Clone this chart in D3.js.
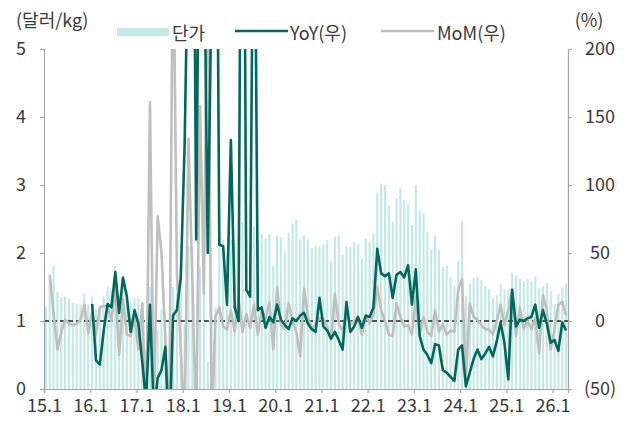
<!DOCTYPE html>
<html>
<head>
<meta charset="utf-8">
<script src="https://cdn.jsdelivr.net/npm/d3@7"></script>
<style>
  html, body { margin: 0; padding: 0; background: #fff; }
  svg text { font-family: "Noto Sans CJK KR", "Noto Sans", sans-serif; fill: #3a3a3a; }
</style>
</head>
<body>
<svg id="chart" width="629" height="425"></svg>
<script>
// Monthly categories 2015.1 – 2026.4
const years = d3.range(2015, 2027);
const months = [];
years.forEach(y => d3.range(1, 13).forEach(m => { if (y < 2026 || m <= 4) months.push(`${String(y).slice(2)}.${m}`); }));

// Unit price (USD/kg)
const price = [
  1.21, 1.65, 1.81, 1.43, 1.35, 1.36, 1.33, 1.27, 1.25, 1.24, 1.40, 1.24,
  1.36, 1.17, 1.23, 1.36, 1.51, 1.45, 1.81, 1.38, 1.60, 1.45, 1.29, 1.34,
  1.33, 1.27, 0.57, 1.50, 0.49, 0.87, 1.16, 1.10, 0.20, 1.50, 1.40, 1.77,
  0.94, 2.10, 2.10, 0.35, 1.80, 1.80, 0.40, 1.60, 1.20, 2.30, 2.20, 2.00,
  2.20, 2.15, 2.30, 2.46, 2.20, 2.10, 2.40, 2.20, 2.28, 2.21, 2.28, 1.81,
  2.26, 2.23, 2.03, 2.30, 2.43, 2.49, 2.20, 2.26, 2.20, 2.07, 2.10, 2.10,
  2.13, 2.19, 1.88, 2.24, 2.26, 1.97, 2.10, 2.09, 2.16, 2.14, 1.91, 2.21,
  2.16, 2.29, 2.89, 3.02, 3.00, 2.70, 2.46, 2.80, 2.95, 2.78, 2.71, 2.41,
  3.00, 2.63, 2.58, 2.31, 2.05, 2.25, 2.04, 1.80, 1.81, 1.65, 1.53, 1.88,
  2.47, 1.37, 1.55, 1.63, 1.65, 1.60, 1.51, 1.47, 1.34, 1.38, 1.54, 1.46,
  1.46, 1.70, 1.67, 1.62, 1.59, 1.62, 1.58, 1.65, 1.48, 1.51, 1.56, 1.43,
  1.25, 1.40, 1.49, 1.55
];

// Year-on-year change (%), right axis
const yoy = [
  null, null, null, null, null, null, null, null, null, null, null, null,
  12.5, -29, -32, -7, 12.5, 10, 36, 6, 32, 18, -8, 8,
  -2, -30, -60, 12, -68, -42, -36, -19, -90, 4, 8, 32,
  130, 300, 500, 60, 400, 300, 50, 250, 500, 56, 55, 12,
  133, 10, 0, 600, 23, 18, 400, 8, 10, -5, 3, -1,
  12, 1, -3, -6, 2, 0, 4, 6, -2, -6, -8, 17,
  -4, -7, -13, -8, -14, -21, 14, -8, -4, 3, -5, 4,
  3, 10, 53, 35, 33, 35, 17, 34, 36, 32, 41, 12,
  38, -11, -21, -25, -31, -17, -18, -36, -38, -41, -44, -21,
  -18, -48, -38, -28, -21, -28, -24, -19, -26, -15, -1, -16,
  -43, 23, -4, 1, 0, 2, 3, 12, -5, 8, -2, -16,
  -14, -22, -1, -7
];

// Month-on-month change (%), right axis
const mom = [
  null, 34, 5, -21, -8, 1, -2, -3, -2, 1, 12, -9,
  7, -10, 10, 11, 11, 0, 25, -25, 16, -10, -11, 4,
  -21, 13, -80, 161, -70, 77, 50, -14, -80, 300, 35, -20,
  -80, 134, 30, -80, 158, 20, 300, -80, 3, 10, -4, -6,
  8, -8, 17, -8, 5, -5, 12, -10, 8, 2, 14, -21,
  25, -3, -6, 13, 0, -8, -26, 24, 3, -6, -2, 2,
  2, -4, -14, 20, -2, -7, 5, -2, 0, 3, -10, 4,
  -2, 5, 25, 8, 0, -10, -11, 13, 3, -4, -3, -10,
  18, -10, 3, -8, -11, 8, -8, -2, -10, -7, -8, 23,
  31, -43, 13, 3, 1, -3, -6, -6, -10, 0, 12, -3,
  8, 23, -11, 10, -6, 0, -6, 2, -24, 19, 8, -21,
  -6, 12, 14, 4
];

const leftTicks = [0, 1, 2, 3, 4, 5];
const rightTicks = [-50, 0, 50, 100, 150, 200];
const xTickLabels = ["15.1", "16.1", "17.1", "18.1", "19.1", "20.1", "21.1", "22.1", "23.1", "24.1", "25.1", "26.1"];

const colors = { bar: "#c2e9e3", yoy: "#00695c", mom: "#bfbfbf", axis: "#a6a6a6" };

const svg = d3.select("#chart");
const plot = { left: 44, right: 568, top: 49, bottom: 389 };

const x = d3.scaleBand().domain(d3.range(months.length)).range([plot.left, plot.right]).paddingInner(0.45).paddingOuter(0.2);
const xPos = d3.scaleLinear().domain([0, months.length]).range([plot.left, plot.right]);
const yL = d3.scaleLinear().domain([0, 5]).range([plot.bottom, plot.top]);
const yR = d3.scaleLinear().domain([-50, 200]).range([plot.bottom, plot.top]);

svg.append("defs").append("clipPath").attr("id", "plotClip")
  .append("rect").attr("x", plot.left).attr("y", plot.top)
  .attr("width", plot.right - plot.left).attr("height", plot.bottom - plot.top);

// Bars
svg.append("g").selectAll("rect").data(price).join("rect")
  .attr("x", (d, i) => x(i))
  .attr("width", x.bandwidth())
  .attr("y", d => yL(d))
  .attr("height", d => yL(0) - yL(d))
  .attr("fill", colors.bar);

// Reference line at 0%
svg.append("line")
  .attr("x1", plot.left).attr("x2", plot.right)
  .attr("y1", yR(0)).attr("y2", yR(0))
  .attr("stroke", "#222").attr("stroke-width", 1.3).attr("stroke-dasharray", "5,3");

const lineGen = d3.line()
  .defined(d => d.v !== null)
  .x(d => xPos(d.i + 0.5))
  .y(d => yR(d.v));

const lines = svg.append("g").attr("clip-path", "url(#plotClip)");
lines.append("path")
  .datum(mom.map((v, i) => ({ i, v })))
  .attr("d", lineGen).attr("fill", "none")
  .attr("stroke", colors.mom).attr("stroke-width", 2.6).attr("stroke-linejoin", "round");
lines.append("path")
  .datum(yoy.map((v, i) => ({ i, v })))
  .attr("d", lineGen).attr("fill", "none")
  .attr("stroke", colors.yoy).attr("stroke-width", 2.6).attr("stroke-linejoin", "round");

// Axes
const fontSize = "18px";
const axL = svg.append("g").attr("transform", `translate(${plot.left},0)`)
  .call(d3.axisLeft(yL).tickValues(leftTicks).tickSize(4).tickPadding(14).tickFormat(d3.format("d")));
const axR = svg.append("g").attr("transform", `translate(${plot.right},0)`)
  .call(d3.axisRight(yR).tickValues(rightTicks).tickSize(4).tickPadding(14)
    .tickFormat(d => d < 0 ? `(${-d})` : String(d)));
const axB = svg.append("g").attr("transform", `translate(0,${plot.bottom})`)
  .call(d3.axisBottom(xPos).tickValues(d3.range(0, months.length, 12)).tickSize(4).tickPadding(6)
    .tickFormat((d, k) => xTickLabels[k]));

[axL, axR, axB].forEach(g => {
  g.select(".domain").attr("stroke", colors.axis).attr("stroke-width", 1.2);
  g.selectAll(".tick line").attr("stroke", colors.axis).attr("stroke-width", 1.2);
  g.selectAll("text").attr("font-size", fontSize).attr("fill", "#3a3a3a").attr("font-family", null);
});
axR.selectAll("text").attr("text-anchor", "middle").attr("x", 32);

// Axis titles
svg.append("text").attr("x", 16).attr("y", 27).attr("font-size", "18px").text("(달러/kg)");
svg.append("text").attr("x", 589).attr("y", 27).attr("text-anchor", "middle").attr("font-size", "18px").text("(%)");

// Legend
const lg = svg.append("g");
lg.append("rect").attr("x", 117).attr("y", 28).attr("width", 52).attr("height", 8).attr("fill", colors.bar);
lg.append("text").attr("x", 172).attr("y", 40).attr("font-size", "18px").text("단가");
lg.append("line").attr("x1", 235).attr("x2", 288).attr("y1", 31).attr("y2", 31).attr("stroke", colors.yoy).attr("stroke-width", 2.6);
lg.append("text").attr("x", 290).attr("y", 40).attr("font-size", "18px").text("YoY(우)");
lg.append("line").attr("x1", 381).attr("x2", 434).attr("y1", 31).attr("y2", 31).attr("stroke", colors.mom).attr("stroke-width", 2.6);
lg.append("text").attr("x", 437).attr("y", 40).attr("font-size", "18px").text("MoM(우)");
</script>
</body>
</html>
